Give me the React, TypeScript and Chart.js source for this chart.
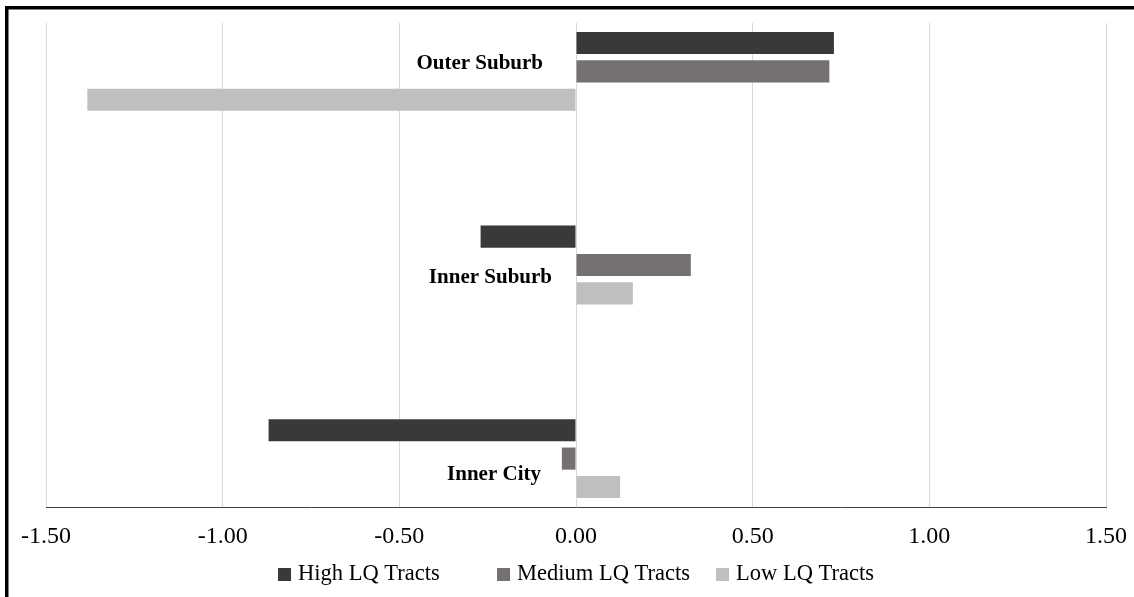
import React, { useEffect, useRef } from 'react';
import { Chart, registerables } from 'chart.js';

Chart.register(...registerables);

// ---- Data ----
const categories = ['Outer Suburb', '', 'Inner Suburb', '', 'Inner City'];
const seriesNames = ['High LQ Tracts', 'Medium LQ Tracts', 'Low LQ Tracts'];
const highLQ = [0.73, null, -0.27, null, -0.87];
const mediumLQ = [0.717, null, 0.325, null, -0.04];
const lowLQ = [-1.383, null, 0.161, null, 0.125];
const xTickValues = [-1.5, -1.0, -0.5, 0, 0.5, 1.0, 1.5];

// ---- Styles ----
const seriesColors = ['#3b3838', '#767171', '#bfbfbf'];
const FONT = "'Liberation Serif', 'Times New Roman', serif";
const W = 1134;
const H = 597;

// pixel nudges for the category labels (right edge offset from the zero line, vertical offset from category centre)
const categoryLabelNudge: Record<number, [number, number]> = {
  0: [33, -8],
  2: [24, 12.5],
  4: [35, 15.5],
};

const LEGEND = { y: 574.5, slot: 219, box: 13, gap: 7, fontSize: 22.5 };

const frameBorder = {
  id: 'frameBorder',
  afterDraw(chart: any) {
    const ctx = chart.ctx;
    ctx.save();
    ctx.fillStyle = '#000';
    ctx.fillRect(5, 6, 3.5, H);
    ctx.fillRect(5, 6, W, 3.5);
    ctx.restore();
  },
};

const categoryLabels = {
  id: 'categoryLabels',
  afterDatasetsDraw(chart: any) {
    const ctx = chart.ctx;
    const xs = chart.scales.x;
    const ys = chart.scales.y;
    const zeroX = xs.getPixelForValue(0);
    ctx.save();
    ctx.font = `bold 21px ${FONT}`;
    ctx.fillStyle = '#000';
    ctx.textAlign = 'right';
    ctx.textBaseline = 'middle';
    categories.forEach((c, i) => {
      if (!c) return;
      const [dx, dy] = categoryLabelNudge[i] || [10, 0];
      ctx.fillText(c, zeroX - dx, ys.getPixelForValue(i) + dy);
    });
    ctx.restore();
  },
};

// Excel-style legend: equal-width slots, centred under the plot area
const slotLegend = {
  id: 'slotLegend',
  afterDraw(chart: any) {
    const ctx = chart.ctx;
    const ds = chart.data.datasets;
    const area = chart.chartArea;
    ctx.save();
    ctx.font = `${LEGEND.fontSize}px ${FONT}`;
    ctx.textBaseline = 'middle';
    ctx.textAlign = 'left';
    const lastW = LEGEND.box + LEGEND.gap + ctx.measureText(ds[ds.length - 1].label).width;
    const total = LEGEND.slot * (ds.length - 1) + lastW;
    const cx = (area.left + area.right) / 2;
    let x = cx - total / 2;
    ds.forEach((d: any) => {
      ctx.fillStyle = d.backgroundColor;
      ctx.fillRect(x, LEGEND.y - LEGEND.box / 2, LEGEND.box, LEGEND.box);
      ctx.fillStyle = '#000';
      ctx.fillText(d.label, x + LEGEND.box + LEGEND.gap, LEGEND.y);
      x += LEGEND.slot;
    });
    ctx.restore();
  },
};

export default function App() {
  const ref = useRef<HTMLCanvasElement | null>(null);

  useEffect(() => {
    document.body.style.margin = '0';
    const canvas = ref.current;
    if (!canvas) return;
    const series = [highLQ, mediumLQ, lowLQ];
    const chart = new Chart(canvas, {
      type: 'bar',
      data: {
        labels: categories,
        datasets: series.map((d, i) => ({
          label: seriesNames[i],
          data: d,
          backgroundColor: seriesColors[i],
          borderWidth: 0,
          categoryPercentage: 0.88,
          barPercentage: 0.78,
        })),
      },
      options: {
        indexAxis: 'y',
        responsive: false,
        animation: false,
        layout: { padding: { left: 46, right: 22, top: 23, bottom: 30.4 } },
        scales: {
          x: {
            type: 'linear',
            min: -1.5,
            max: 1.5,
            afterBuildTicks: (scale: any) => {
              scale.ticks = xTickValues.map((v) => ({ value: v }));
            },
            grid: { color: '#d9d9d9', lineWidth: 1, drawTicks: false },
            border: { display: true, color: '#404040', width: 1 },
            ticks: {
              padding: 7,
              color: '#000',
              font: { family: FONT, size: 24, lineHeight: 1.9 },
              maxRotation: 0,
              callback: (v: any) => Number(v).toFixed(2),
            },
          },
          y: {
            type: 'category',
            display: false,
          },
        },
        plugins: {
          legend: { display: false },
          tooltip: { enabled: false },
        },
      },
      plugins: [frameBorder, categoryLabels, slotLegend],
    } as any);
    return () => chart.destroy();
  }, []);

  return (
    <div style={{ position: 'absolute', left: 0, top: 0, width: W, height: H, background: '#fff' }}>
      <canvas ref={ref} width={W} height={H} style={{ display: 'block' }} />
    </div>
  );
}
